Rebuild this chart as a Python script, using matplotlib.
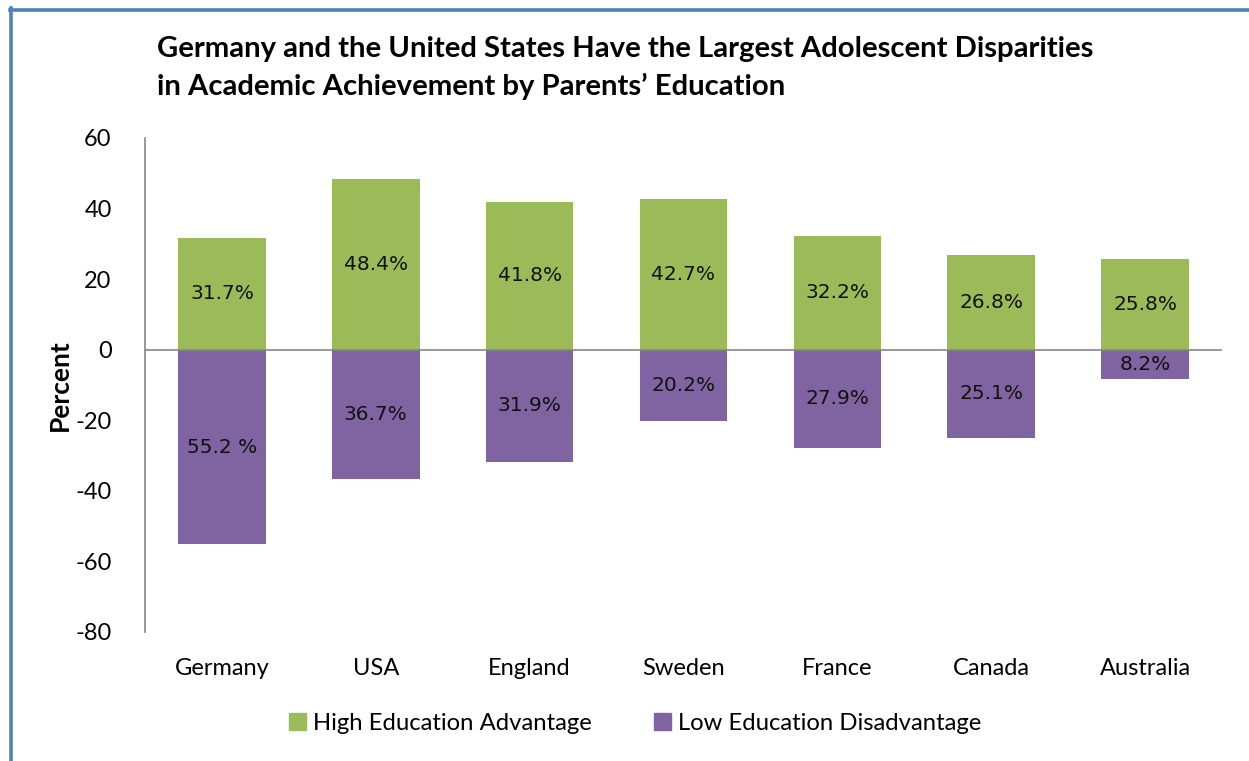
#!/usr/bin/env python3
"""Adolescent disparities in academic achievement by parents' education."""

import matplotlib.pyplot as plt
from matplotlib.lines import Line2D
from matplotlib.patches import Patch

countries = ["Germany", "USA", "England", "Sweden", "France", "Canada", "Australia"]
high_adv = [31.7, 48.4, 41.8, 42.7, 32.2, 26.8, 25.8]
low_disadv = [-55.2, -36.7, -31.9, -20.2, -27.9, -25.1, -8.2]
high_labels = ["31.7%", "48.4%", "41.8%", "42.7%", "32.2%", "26.8%", "25.8%"]
low_labels = ["55.2 %", "36.7%", "31.9%", "20.2%", "27.9%", "25.1%", "8.2%"]
yticks = [60, 40, 20, 0, -20, -40, -60, -80]

GREEN = "#9BBB59"
PURPLE = "#8064A2"
GRAY = "#868686"
BORDER = "#4F81BD"
UI_FONT = ["Lato", "DejaVu Sans"]

fig = plt.figure(figsize=(12.49, 7.61), dpi=100)
ax = fig.add_axes([145 / 1249, 1 - 632 / 761, (1222 - 145) / 1249, (632 - 138) / 761])

x = range(len(countries))
width = 0.57
bars_hi = ax.bar(x, high_adv, width, color=GREEN, label="High Education Advantage", zorder=2)
bars_lo = ax.bar(x, low_disadv, width, color=PURPLE, label="Low Education Disadvantage", zorder=2)

ax.bar_label(bars_hi, labels=high_labels, label_type="center", fontsize=14.5,
             family="DejaVu Sans", color="#111111")
ax.bar_label(bars_lo, labels=low_labels, label_type="center", fontsize=14.5,
             family="DejaVu Sans", color="#111111")

ax.axhline(0, color=GRAY, lw=1.2, zorder=3)
ax.set_xlim(-0.5, len(countries) - 0.5)
ax.set_ylim(-80, 60)
ax.set_yticks(yticks)
ax.set_yticklabels([str(t) for t in yticks], family=UI_FONT, fontsize=17)
ax.set_xticks(list(x))
ax.set_xticklabels(countries, family=UI_FONT, fontsize=17)
ax.tick_params(axis="y", length=0, pad=24)
ax.tick_params(axis="x", length=0, pad=19)
for side in ["top", "right", "bottom"]:
    ax.spines[side].set_visible(False)
ax.spines["left"].set_color(GRAY)
ax.spines["left"].set_linewidth(1.2)
ax.set_ylabel("Percent", family=UI_FONT, fontsize=19, fontweight="bold", va="center")
ax.yaxis.set_label_coords((60 - 145) / 1077, 0.5)

# Title (two lines)
fig.text(157 / 1249, 1 - 57 / 761,
         "Germany and the United States Have the Largest Adolescent Disparities",
         family=UI_FONT, fontsize=21.1, fontweight="bold", va="baseline", ha="left")
fig.text(157 / 1249, 1 - 95 / 761,
         "in Academic Achievement by Parents\u2019 Education",
         family=UI_FONT, fontsize=21.1, fontweight="bold", va="baseline", ha="left")

# Legend
handles = [Patch(color=GREEN), Patch(color=PURPLE)]
fig.legend(handles, ["High Education Advantage", "Low Education Disadvantage"],
           loc="center", bbox_to_anchor=(635 / 1249, 1 - 723 / 761), ncol=2,
           frameon=False, prop={"family": UI_FONT, "size": 17.2},
           handlelength=0.7, handleheight=0.7, handletextpad=0.3, columnspacing=2.6)

# Blue frame on top and left
fig.add_artist(Line2D([10 / 1249, 1.0], [1 - 9.5 / 761, 1 - 9.5 / 761],
                      transform=fig.transFigure, color=BORDER, lw=2.6))
fig.add_artist(Line2D([10.5 / 1249, 10.5 / 1249], [0, 1 - 8 / 761],
                      transform=fig.transFigure, color=BORDER, lw=2.6))

fig.savefig("out.png", dpi=100)
